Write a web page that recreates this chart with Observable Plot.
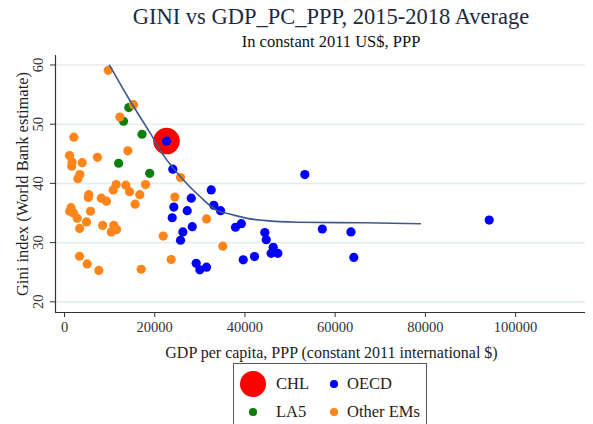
<!DOCTYPE html>
<html><head><meta charset="utf-8">
<script src="https://cdn.jsdelivr.net/npm/d3@7"></script>
<script src="https://cdn.jsdelivr.net/npm/@observablehq/plot@0.6"></script>
<style>
body{margin:0;background:#fff;font-family:"Liberation Serif",serif;}
#wrap{position:relative;width:593px;height:424px;overflow:hidden;background:#fff}
.ctr{position:absolute;left:0;width:662px;text-align:center;white-space:nowrap}
#title{top:3px;font-size:22.5px;line-height:27px;color:#1c2a44}
#subtitle{top:32px;font-size:16.5px;line-height:20px;color:#111}
#chart{position:absolute;left:0;top:50px}
#legend{position:absolute;left:233px;top:363px;width:194px;height:80px;border:1px solid #555;box-sizing:border-box}
.lg{position:absolute;font-size:16.5px;line-height:20px;color:#222}
.sw{position:absolute;border-radius:50%}
</style></head>
<body>
<div id="wrap">
  <div id="title" class="ctr"></div>
  <div id="subtitle" class="ctr"></div>
  <div id="chart"></div>
  <div id="legend"></div>
</div>
<script>
const titleText = "GINI vs GDP_PC_PPP, 2015-2018 Average";
const subtitleText = "In constant 2011 US$, PPP";
const xLabel = "GDP per capita, PPP (constant 2011 international $)";
const yLabel = "Gini index (World Bank estimate)";
const xTicks = [0, 20000, 40000, 60000, 80000, 100000];
const yTicks = [20, 30, 40, 50, 60];
const xDomain = [-2000, 115500];
const yDomain = [18.2, 61.6];

const seriesNames = ["CHL", "OECD", "LA5", "Other EMs"];
const seriesColors = ["#ff0000", "#0000ff", "#0a800a", "#ff851b"];

const chlX = [22610];
const chlY = [47.15];

const oecdX = [22610, 24010, 28100, 24230, 23870, 27200, 28310, 26230, 25720, 32520, 33100, 34590, 37900, 39200, 44410, 44720, 46270, 45820, 47290, 42120, 39620, 29190, 30000, 31480, 57150, 63500, 64140, 53280, 94150];
const oecdY = [47.15, 42.4, 37.5, 36.0, 34.2, 35.4, 32.7, 31.8, 30.4, 38.9, 36.3, 35.4, 32.6, 33.2, 31.7, 30.5, 29.2, 28.2, 28.2, 27.65, 27.1, 26.5, 25.4, 25.85, 32.3, 31.8, 27.5, 41.5, 33.8];

const la5X = [14260, 13080, 17180, 12000, 18880];
const la5Y = [52.8, 50.5, 48.3, 43.4, 41.7];

const otherX = [9690, 15300, 12260, 2070, 1110, 1660, 1600, 3920, 7300, 14040, 3400, 2950, 25720, 11460, 10790, 13590, 14410, 17960, 16690, 5390, 5260, 8150, 9300, 24460, 15650, 1450, 1150, 2000, 2810, 3350, 4880, 5760, 8450, 10930, 10350, 11530, 21880, 3330, 5030, 7600, 17000, 23650, 31480, 35100];
const otherY = [59.1, 53.3, 51.2, 47.8, 44.7, 43.6, 42.9, 43.5, 44.4, 45.5, 41.5, 40.8, 41.0, 39.8, 38.9, 39.7, 38.6, 39.8, 38.1, 38.1, 37.6, 37.5, 37.0, 37.7, 36.5, 35.9, 35.3, 35.0, 34.1, 32.4, 33.5, 35.3, 32.9, 32.9, 31.8, 32.2, 31.1, 27.7, 26.4, 25.3, 25.5, 27.15, 34.0, 29.4];

const fitX = [9980, 14260, 19070, 21800, 26450, 30150, 33850, 36800, 40500, 44190, 51590, 66350, 78900];
const fitY = [59.95, 54.3, 48.4, 44.9, 40.5, 37.7, 35.4, 34.8, 34.1, 33.75, 33.45, 33.35, 33.2];

const toRows = (xs, ys) => xs.map((x, i) => ({x, y: ys[i]}));
const chl = toRows(chlX, chlY);
const oecd = toRows(oecdX, oecdY);
const la5 = toRows(la5X, la5Y);
const other = toRows(otherX, otherY);
const fit = toRows(fitX, fitY);

document.getElementById("title").textContent = titleText;
document.getElementById("subtitle").textContent = subtitleText;

const plot = Plot.plot({
  width: 593,
  height: 310,
  marginLeft: 55,
  marginRight: 8,
  marginTop: 5,
  marginBottom: 48,
  style: {fontFamily: "Liberation Serif", fontSize: "14.5px", color: "#222", background: "transparent", overflow: "visible"},
  x: {domain: xDomain},
  y: {domain: yDomain},
  marks: [
    Plot.gridY(yTicks, {stroke: "#e4edf0", strokeOpacity: 1, strokeWidth: 1.6}),
    Plot.ruleY([yDomain[0]], {stroke: "#333", strokeWidth: 1.2}),
    Plot.ruleX([xDomain[0]], {stroke: "#333", strokeWidth: 1.2}),
    Plot.axisX(xTicks, {tickSize: 5, tickPadding: 4, tickFormat: d => String(d), label: null, stroke: "#333", fill: "#333"}),
    Plot.axisY(yTicks, {tickSize: 5, tickPadding: 8, tickRotate: -90, textAnchor: "middle", lineAnchor: "bottom", tickFormat: d => String(d), label: null, stroke: "#333", fill: "#333"}),
    Plot.text([yLabel], {text: d => d, frameAnchor: "left", rotate: -90, dx: -28, textAnchor: "middle", lineAnchor: "bottom", fontSize: 16.5, fill: "#222"}),
    Plot.text([xLabel], {text: d => d, frameAnchor: "bottom", dx: 11, dy: 40, lineAnchor: "middle", fontSize: 16, fill: "#222"}),
    Plot.dot(chl, {x: "x", y: "y", r: 13.3, fill: seriesColors[0], stroke: null}),
    Plot.dot(oecd, {x: "x", y: "y", r: 4.6, fill: seriesColors[1], stroke: null}),
    Plot.dot(la5, {x: "x", y: "y", r: 4.6, fill: seriesColors[2], stroke: null}),
    Plot.dot(other, {x: "x", y: "y", r: 4.6, fill: seriesColors[3], stroke: null}),
    Plot.line(fit, {x: "x", y: "y", curve: "monotone-x", stroke: "#3d5a8a", strokeWidth: 1.6})
  ]
});
document.getElementById("chart").appendChild(plot);

// legend
const lg = document.getElementById("legend");
const items = [
  {name: seriesNames[0], color: seriesColors[0], r: 13, cx: 19, cy: 20, tx: 42},
  {name: seriesNames[1], color: seriesColors[1], r: 3.8, cx: 100, cy: 20, tx: 113},
  {name: seriesNames[2], color: seriesColors[2], r: 3.8, cx: 19, cy: 48, tx: 42},
  {name: seriesNames[3], color: seriesColors[3], r: 3.8, cx: 100, cy: 48, tx: 113}
];
for (const it of items) {
  const s = document.createElement("div");
  s.className = "sw";
  s.style.left = (it.cx - it.r) + "px";
  s.style.top = (it.cy - it.r) + "px";
  s.style.width = s.style.height = (2 * it.r) + "px";
  s.style.background = it.color;
  lg.appendChild(s);
  const t = document.createElement("div");
  t.className = "lg";
  t.style.left = it.tx + "px";
  t.style.top = (it.cy - 10) + "px";
  t.textContent = it.name;
  lg.appendChild(t);
}
</script>
</body></html>
